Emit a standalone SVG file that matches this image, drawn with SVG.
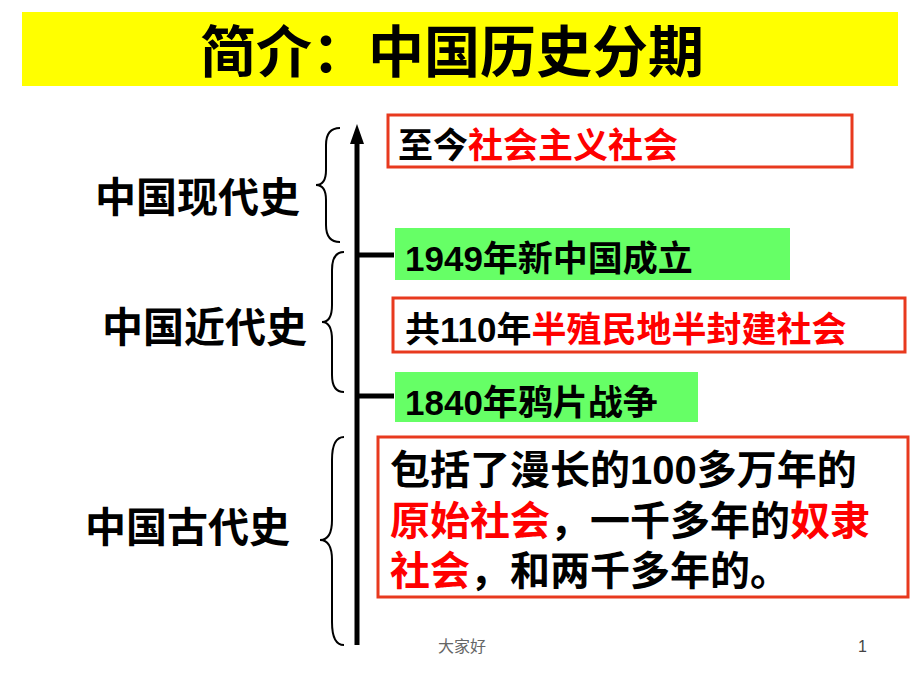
<svg xmlns="http://www.w3.org/2000/svg" width="920" height="690" viewBox="0 0 920 690">
<style>
.t{font-family:"Liberation Sans","Noto Sans CJK SC",sans-serif;font-weight:bold;fill:#000}
.r{fill:#FF0000}
.box{fill:#fff;stroke:#E8391E;stroke-width:3}
.g{fill:#66FF66}
.br{fill:none;stroke:#000;stroke-width:2}
</style>
<rect width="920" height="690" fill="#fff"/>
<g id="title"><rect x="22" y="12" width="876" height="74" fill="#FFFF00"/>
<text class="t" x="452" y="72" font-size="56" text-anchor="middle">简介：中国历史分期</text></g>
<g id="connectors">
<line x1="357" y1="645" x2="357" y2="140" stroke="#000" stroke-width="5"/>
<polygon points="357,124 350,144 364,144" fill="#000"/>
<line x1="357" y1="255" x2="394" y2="255" stroke="#000" stroke-width="5"/>
<line x1="357" y1="396" x2="394" y2="396" stroke="#000" stroke-width="5"/>
<path class="br" d="M340,128 Q326,128 326,145 L326,170 Q326,185 316,185 Q326,185 326,200 L326,225 Q326,242 340,242"/>
<path class="br" d="M344,252 Q332,252 332,270 L332,305 Q332,322 322,322 Q332,322 332,340 L332,375 Q332,392 344,392"/>
<path class="br" d="M344,437 Q332,437 332,460 L332,520 Q332,540 320,540 Q332,540 332,560 L332,622 Q332,645 344,645"/>
</g>
<g id="labels">
<text class="t" x="95" y="212" font-size="41">中国现代史</text>
<text class="t" x="102" y="342" font-size="41">中国近代史</text>
<text class="t" x="85" y="542" font-size="41">中国古代史</text>
</g>
<g id="n1"><rect class="box" x="388" y="115" width="464" height="52"/>
<text class="t" x="398" y="158" font-size="35">至今<tspan class="r">社会主义社会</tspan></text></g>
<g id="n2"><rect class="g" x="395" y="228" width="395" height="52"/>
<text class="t" x="405" y="271" font-size="35">1949年新中国成立</text></g>
<g id="n3"><rect class="box" x="393" y="298" width="512" height="54"/>
<text class="t" x="405" y="342" font-size="35">共110年<tspan class="r">半殖民地半封建社会</tspan></text></g>
<g id="n4"><rect class="g" x="395" y="372" width="303" height="50"/>
<text class="t" x="405" y="415" font-size="35">1840年鸦片战争</text></g>
<g id="n5"><rect class="box" x="378" y="437" width="530" height="160"/>
<text class="t" x="390" y="484" font-size="40">包括了漫长的100多万年的</text>
<text class="t" x="390" y="535" font-size="40"><tspan class="r">原始社会</tspan>，一千多年的<tspan class="r">奴隶</tspan></text>
<text class="t" x="390" y="585" font-size="40"><tspan class="r">社会</tspan>，和两千多年的。</text></g>
<g id="footer">
<text x="462" y="652" font-size="16" text-anchor="middle" fill="#666" font-family="Noto Sans CJK SC,serif">大家好</text>
<text x="858" y="652" font-size="16" fill="#444" font-family="Liberation Sans,sans-serif">1</text>
</g>
</svg>
